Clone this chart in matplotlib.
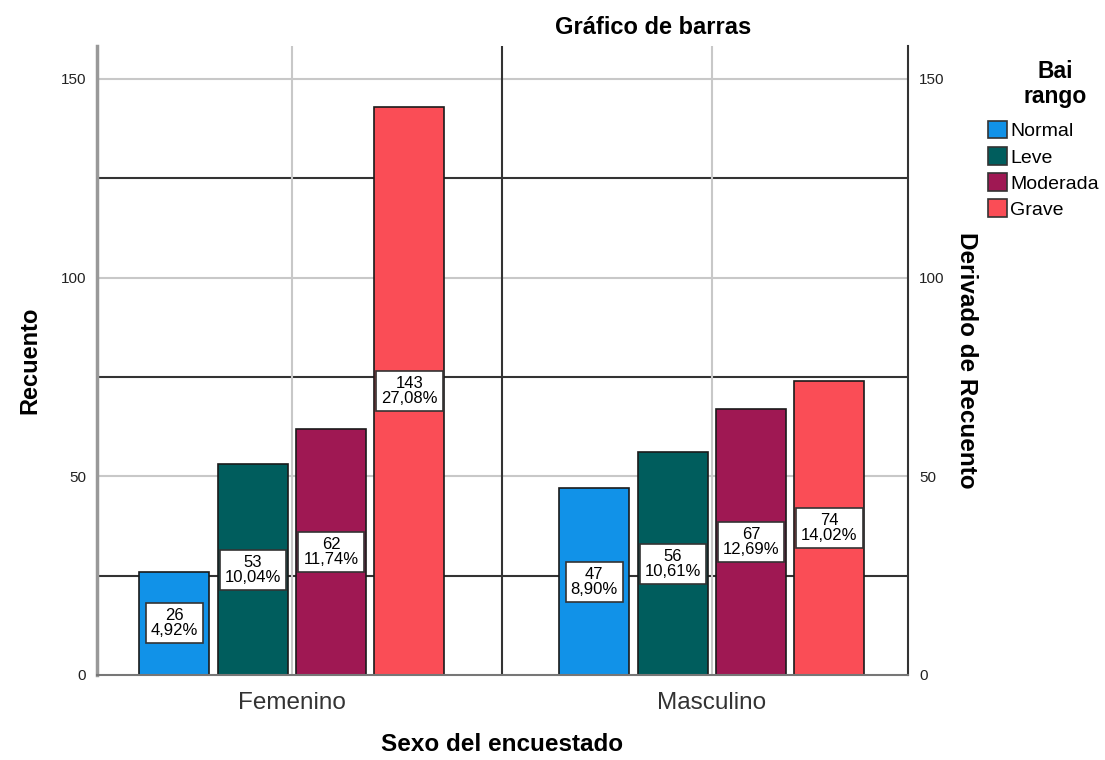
import matplotlib.pyplot as plt
import numpy as np
from matplotlib.patches import Patch

plt.rcParams['font.family'] = ['Liberation Sans', 'DejaVu Sans']

sexo = ['Femenino', 'Masculino']
rangos = ['Normal', 'Leve', 'Moderada', 'Grave']
recuento = {
    'Normal': [26, 47],
    'Leve': [53, 56],
    'Moderada': [62, 67],
    'Grave': [143, 74],
}
porcentaje = {
    'Normal': ['4,92%', '8,90%'],
    'Leve': ['10,04%', '10,61%'],
    'Moderada': ['11,74%', '12,69%'],
    'Grave': ['27,08%', '14,02%'],
}
colores = ['#1192e8', '#005d5d', '#9f1853', '#fa4d56']

fig = plt.figure(figsize=(11.05, 7.6), dpi=100)
ax = fig.add_axes([97/1105, 1 - 675/760, (908-97)/1105, (675-46)/760])

x = np.arange(len(sexo))
ancho = 0.167
paso = 0.1865
offsets = (np.arange(len(rangos)) - 1.5) * paso

# rejilla: principales grises, secundarias oscuras
for v in [50, 100, 150]:
    ax.axhline(v, color='#c8c8c8', lw=1.5, zorder=0)
for v in [25, 75, 125]:
    ax.axhline(v, color='#333333', lw=1.5, zorder=0)
for v in x:
    ax.axvline(v, color='#c8c8c8', lw=1.5, zorder=0)
ax.axvline(0.5, color='#333333', lw=1.5, zorder=0)

for i, r in enumerate(rangos):
    vals = recuento[r]
    ax.bar(x + offsets[i], vals, ancho, color=colores[i], edgecolor='#1a1a1a',
           lw=1.2, zorder=2)
    for j, v in enumerate(vals):
        ax.text(x[j] + offsets[i], v / 2, f'{v}\n{porcentaje[r][j]}',
                ha='center', va='center', fontsize=12, linespacing=1.0,
                zorder=3,
                bbox=dict(boxstyle='square,pad=0.3', fc='white', ec='#333333', lw=1.2))

ax.set_xlim(-0.464, 1.467)
ax.set_ylim(0, 158.3)
ax.set_xticks(x)
ax.set_yticks([0, 50, 100, 150])
ax.tick_params(axis='both', length=0, colors='#222222')
ax.tick_params(axis='y', pad=8, labelsize=11)
ax.set_xticklabels(sexo, fontsize=17.5, color='#333333')
ax.tick_params(axis='x', pad=12)

ax.spines['top'].set_visible(False)
ax.spines['left'].set_color('#999999')
ax.spines['left'].set_linewidth(2.5)
ax.spines['bottom'].set_color('#777777')
ax.spines['bottom'].set_linewidth(1.5)
ax.spines['right'].set_color('#333333')
ax.spines['right'].set_linewidth(1.5)

ax.set_xlabel('Sexo del encuestado', fontsize=17.5, fontweight='bold', labelpad=14)
ax.set_ylabel('Recuento', fontsize=17, fontweight='bold', labelpad=14)

ax2 = ax.twinx()
ax2.set_ylim(ax.get_ylim())
ax2.set_yticks([0, 50, 100, 150])
ax2.tick_params(axis='y', length=0, labelsize=11, colors='#222222', pad=8)
for s in ax2.spines.values():
    s.set_visible(False)
ax2.set_ylabel('Derivado de Recuento', fontsize=17.5, fontweight='bold',
               rotation=-90, labelpad=24)

fig.text(653/1105, 1 - 27/760, 'Gráfico de barras', ha='center', va='center',
         fontsize=17, fontweight='bold')

# leyenda con el título aparte, centrado
fig.text(1055/1105, 1 - 84/760, 'Bai\nrango', ha='center', va='center',
         fontsize=16.5, fontweight='bold', linespacing=1.1)
handles = [Patch(facecolor=c, edgecolor='#333333', lw=1.2, label=r)
           for c, r in zip(colores, rangos)]
leg = fig.legend(handles=handles, loc='upper left', bbox_to_anchor=(988/1105, 1 - 121/760),
                 frameon=False, fontsize=14, borderaxespad=0,
                 handlelength=1.0, handleheight=1.0, handletextpad=0.15,
                 labelspacing=0.35, borderpad=0)

fig.savefig('out.png', dpi=100)
